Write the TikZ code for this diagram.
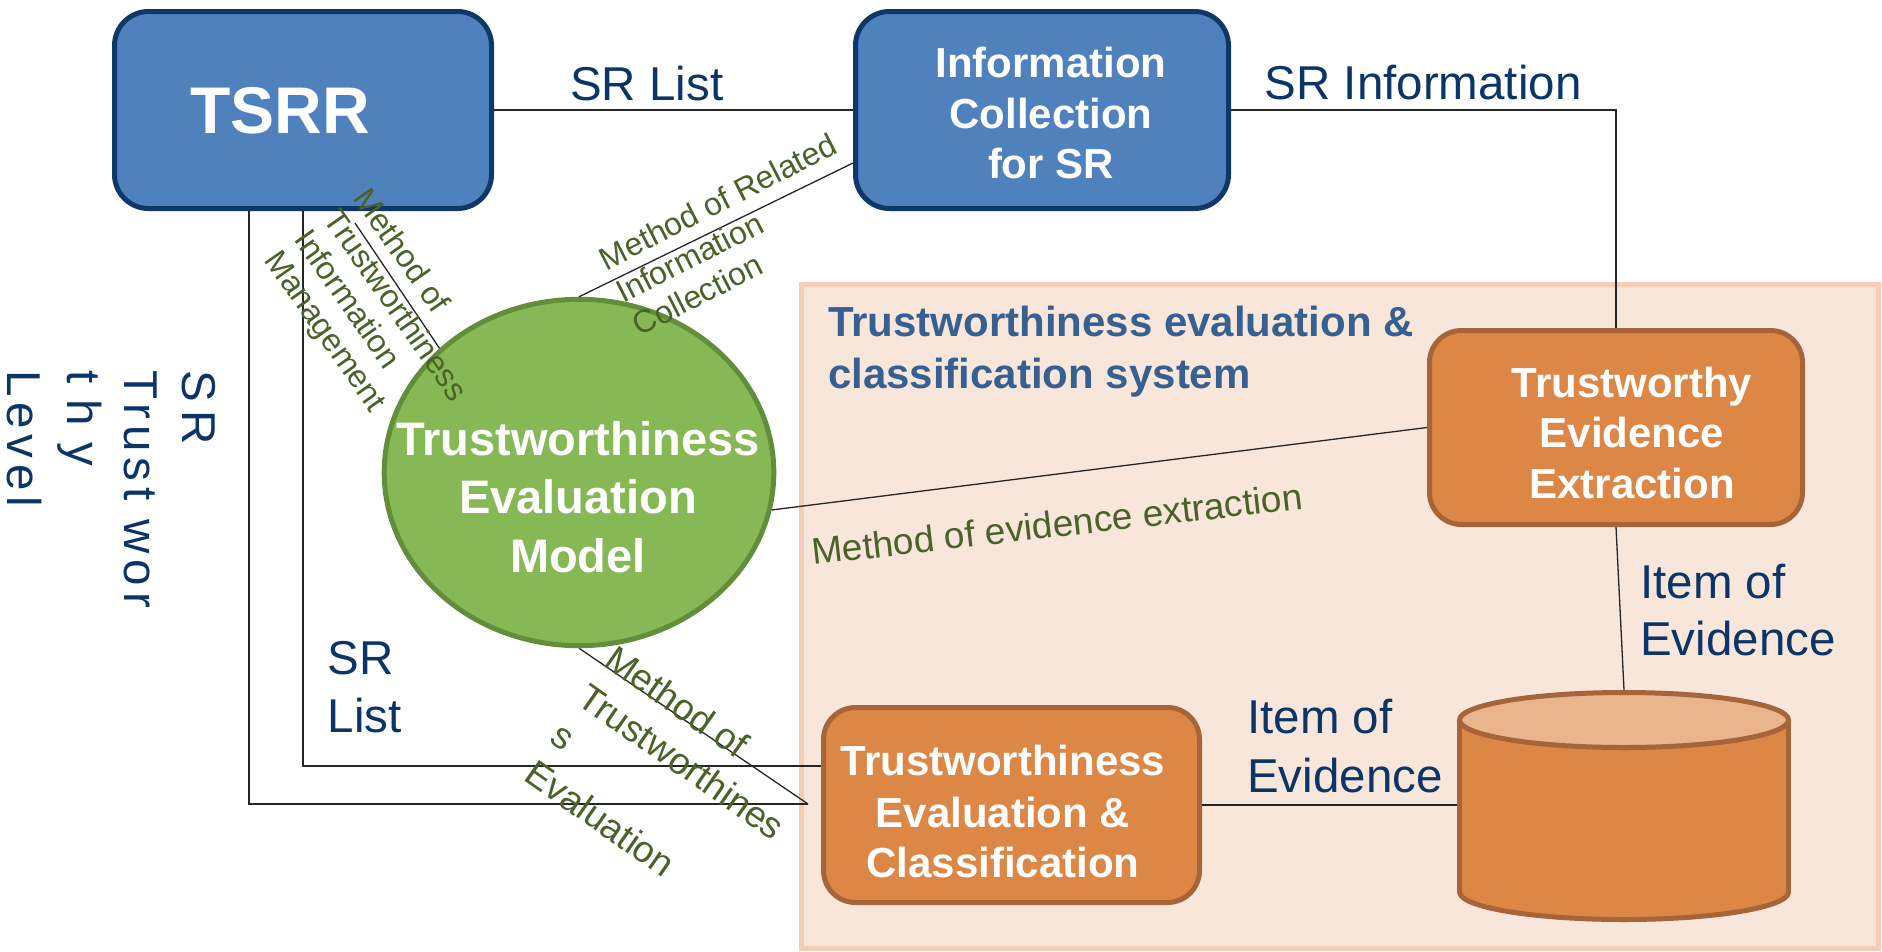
\documentclass[tikz,border=0pt]{standalone}
\usepackage{fontspec}
\setmainfont{Liberation Sans}
\usetikzlibrary{shapes.geometric,calc}
\definecolor{boxblue}{HTML}{4F81BD}
\definecolor{boxblueline}{HTML}{0E3868}
\definecolor{orfill}{HTML}{DD8747}
\definecolor{orline}{HTML}{A6643A}
\definecolor{cyltop}{HTML}{EAB58D}
\definecolor{grfill}{HTML}{86B955}
\definecolor{grline}{HTML}{628D3A}
\definecolor{peach}{HTML}{F9E6DB}
\definecolor{peachline}{HTML}{F4CDB4}
\definecolor{labblue}{HTML}{0B3468}
\definecolor{titleblue}{HTML}{366092}
\definecolor{labgreen}{HTML}{4A6229}
\begin{document}
\begin{tikzpicture}[x=1pt,y=-1pt,
  bluebox/.style={rectangle, rounded corners=34pt, draw=boxblueline, fill=boxblue, line width=5pt, inner sep=0pt},
  orbox/.style={rectangle, rounded corners=32pt, draw=orline, fill=orfill, line width=5pt, inner sep=0pt},
  peachbox/.style={rectangle, draw=peachline, fill=peach, line width=5pt, inner sep=0pt},
  wtxt/.style={text=white, font=\bfseries\fontsize{42}{50}\selectfont, inner sep=0pt, anchor=base},
  etxt/.style={text=white, font=\bfseries\fontsize{47}{56}\selectfont, inner sep=0pt, anchor=base},
  ttl/.style={text=titleblue, font=\bfseries\fontsize{42}{50}\selectfont, inner sep=0pt, anchor=base west},
  dlab/.style={text=labblue, font=\fontsize{47.5}{57}\selectfont, inner sep=0pt, anchor=base west},
  glabA/.style={text=labgreen, font=\fontsize{32}{37}\selectfont, inner sep=0pt, anchor=base west},
  glabB/.style={text=labgreen, font=\fontsize{37}{44}\selectfont, inner sep=0pt, anchor=base west},
  conn/.style={draw=black!85, line width=1.3pt}
]
\fill[white] (0,0) rectangle (1882,951);
\useasboundingbox (0,0) rectangle (1882,951);

% system background
\node[peachbox, minimum width=1077pt, minimum height=664pt] (sys) at (1339.5,616) {};

% main shapes
\node[bluebox, minimum width=377pt, minimum height=197pt] (TSRR) at (303,110) {};
\node[bluebox, minimum width=373pt, minimum height=197pt] (Info) at (1042,110) {};
\node[orbox, minimum width=373pt, minimum height=194pt] (TEE) at (1616,427.5) {};
\node[orbox, minimum width=376pt, minimum height=195pt] (TEC) at (1011.5,805) {};
\node[ellipse, draw=grline, fill=grfill, line width=5pt, minimum width=389.6pt, minimum height=346.4pt, inner sep=0pt] (tem) at (579,472.5) {};

% cylinder (database)
\filldraw[fill=orfill, draw=orline, line width=5pt] (1624,892) ellipse[x radius=164.5, y radius=27.5];
\fill[orfill] (1459.5,720) rectangle (1788.5,892);
\draw[orline, line width=5pt] (1459.5,720) -- (1459.5,892) (1788.5,720) -- (1788.5,892);
\node[ellipse, draw=orline, fill=cyltop, line width=5pt, minimum width=329pt, minimum height=55pt, inner sep=0pt] (db) at (1624,720) {};

% connectors
\coordinate (J) at (808,804);
\coordinate (m2) at (355,223);
\draw[conn] (TSRR.east) -- (Info.west);
\draw[conn] (Info.east) -| (TEE.north);
\draw[conn] (tem.north) -- ($(Info.west)+(0,53)$);
\draw[conn] (m2) -- (tem.north west);
\draw[conn] (tem.-11) -- (TEE.west);
\draw[conn] (tem.south) -- (J);
\draw[conn] ($(TSRR.south west)+(137,0)$) |- (J);
\draw[conn] (TSRR.south) |- ($(TEC.west)+(0,-39)$);
\draw[conn] (TEE.south) -- (db.north);
\draw[conn] (TEC.east) -- (TEC.east -| db.west);

% texts in shapes
\node[wtxt, font=\bfseries\fontsize{66}{78}\selectfont] (tTSRR) at (280,133) {TSRR};
\node[wtxt] (tInfo1) at (1051,77) {Information};
\node[wtxt] (tInfo2) at (1051,128) {Collection};
\node[wtxt] (tInfo3) at (1051,178) {for SR};
\node[wtxt] (tTEE1) at (1632,397) {Trustworthy};
\node[wtxt] (tTEE2) at (1632,447) {Evidence};
\node[wtxt] (tTEE3) at (1632,498) {Extraction};
\node[wtxt] (tTEC1) at (1003,775) {Trustworthiness};
\node[wtxt] (tTEC2) at (1003,827) {Evaluation \&};
\node[wtxt] (tTEC3) at (1003,877) {Classification};
\node[etxt] (ttem1) at (578,455) {Trustworthiness};
\node[etxt] (ttem2) at (578,513) {Evaluation};
\node[etxt] (ttem3) at (578,572) {Model};

% title of system
\node[ttl] (title1) at (828,336) {Trustworthiness evaluation \&};
\node[ttl] (title2) at (828,388) {classification system};

% dark blue labels
\node[dlab] (lSRList) at (570,100) {SR List};
\node[dlab] (lSRInfo) at (1264.5,99) {SR Information};
\node[dlab] (lItemR1) at (1640,598) {Item of};
\node[dlab] (lItemR2) at (1640,655) {Evidence};
\node[dlab] (lItemL1) at (1247,733) {Item of};
\node[dlab] (lItemL2) at (1247,792) {Evidence};
\node[dlab] (lSR2a) at (327.5,674) {SR};
\node[dlab] (lSR2b) at (327.5,732) {List};

% vertical label
\begin{scope}[shift={(182,370)}, rotate=-90, transform shape]
\node[dlab] (v1) at (0,0) {\addfontfeature{LetterSpace=19}SR};
\node[dlab] (v2) at (0,57.5) {\addfontfeature{LetterSpace=12.5}Trust wor};
\node[dlab] (v3) at (0,115) {\addfontfeature{LetterSpace=34}thy};
\node[dlab] (v4) at (0,174) {\addfontfeature{LetterSpace=12.5}Level};
\end{scope}

% green method labels
\begin{scope}[shift={(606.4,271.1)}, rotate=27, transform shape]
\node[glabA] (g1a) at (0,0) {Method of Related};
\node[glabA] (g1b) at (0,36.8) {Information};
\node[glabA] (g1c) at (0,73.6) {Collection};
\end{scope}
\begin{scope}[shift={(352.2,198.3)}, rotate=-55, transform shape]
\node[glabA] (g2a) at (0,0) {Method of};
\node[glabA] (g2b) at (0,36) {Trustworthiness};
\node[glabA] (g2c) at (0,72) {Information};
\node[glabA] (g2d) at (0,108) {Management};
\end{scope}
\begin{scope}[shift={(813,565)}, rotate=6.5, transform shape]
\node[glabB] (g3) at (0,0) {Method of evidence extraction};
\end{scope}
\begin{scope}[shift={(602,665)}, rotate=-35, transform shape]
\node[glabB] (g4a) at (0,0) {Method of};
\node[glabB] (g4b) at (0,46.5) {Trustworthines};
\node[glabB] (g4c) at (0,93) {s};
\node[glabB] (g4d) at (0,139.5) {Evaluation};
\end{scope}
\end{tikzpicture}
\end{document}
